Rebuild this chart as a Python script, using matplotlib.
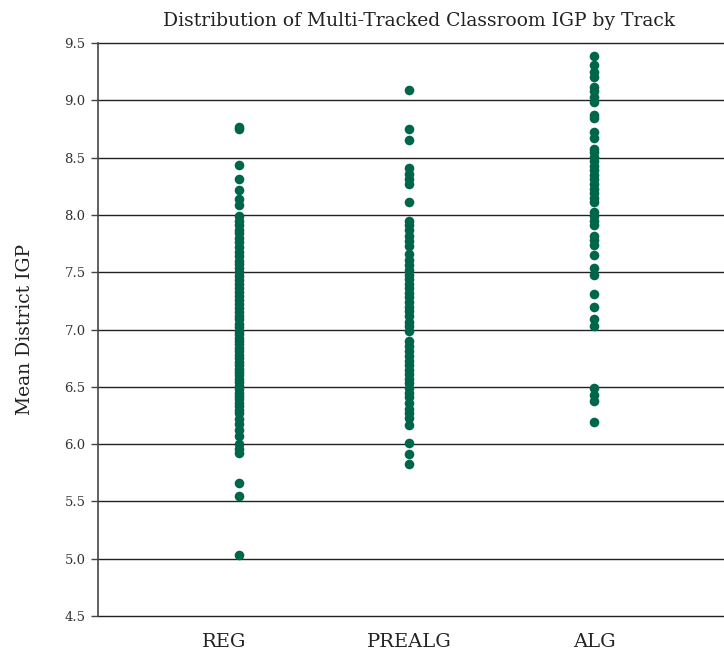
import numpy as np
import matplotlib
matplotlib.use('Agg')
import matplotlib.pyplot as plt

tracks = ['REG', 'PREALG', 'ALG']
# REG dots sit a little right of their label in the original
track_pos = [0.08, 1.0, 2.0]

reg_igp = [8.77, 8.75, 8.44, 8.31, 8.22, 8.14, 8.09,
           7.99, 7.95, 7.91, 7.87, 7.84, 7.80, 7.76, 7.72, 7.68, 7.64, 7.60, 7.57,
           7.54, 7.50, 7.47, 7.43, 7.40, 7.36, 7.33, 7.29, 7.26, 7.22, 7.19, 7.15,
           7.12, 7.09, 7.05, 7.02, 6.99, 6.96, 6.93, 6.90, 6.87, 6.84, 6.81, 6.78,
           6.75, 6.72, 6.69, 6.66, 6.63, 6.60, 6.57, 6.54, 6.51, 6.48, 6.45, 6.42,
           6.39, 6.36, 6.33, 6.30, 6.27, 6.22, 6.18, 6.12, 6.07, 6.00, 5.96, 5.92,
           5.66, 5.55, 5.03]
prealg_igp = [9.09, 8.75, 8.65, 8.41, 8.36, 8.31, 8.27, 8.11,
              7.95, 7.91, 7.87, 7.82, 7.77, 7.73, 7.66, 7.61, 7.56, 7.52,
              7.48, 7.44, 7.40, 7.36, 7.32, 7.28, 7.24, 7.20, 7.16, 7.12, 7.07,
              7.03, 6.99, 6.90, 6.86, 6.81, 6.77, 6.73, 6.69, 6.65, 6.61, 6.57,
              6.53, 6.49, 6.45, 6.41, 6.36, 6.31, 6.27, 6.23, 6.17,
              6.01, 5.91, 5.83]
alg_igp = [9.39, 9.31, 9.25, 9.20, 9.12, 9.08, 9.03, 8.99, 8.87, 8.85,
           8.72, 8.67, 8.58, 8.55, 8.51, 8.47, 8.43, 8.39, 8.35, 8.31,
           8.27, 8.23, 8.19, 8.15, 8.11, 8.03, 7.99, 7.95, 7.91,
           7.82, 7.78, 7.74, 7.65, 7.54, 7.48, 7.31, 7.20, 7.09, 7.03,
           6.49, 6.43, 6.38, 6.19]

ticks = [4.5, 5.0, 5.5, 6.0, 6.5, 7.0, 7.5, 8.0, 8.5, 9.0, 9.5]

plt.rcParams['font.family'] = ['DejaVu Serif']

fig = plt.figure(figsize=(7.24, 6.55), dpi=100)
ax = fig.add_axes([0.1354, 0.0595, 0.8646, 0.8747])

color = '#00664a'
for pos, vals in zip(track_pos, [reg_igp, prealg_igp, alg_igp]):
    ax.scatter(np.full(len(vals), pos), vals, s=48, color=color, zorder=3, linewidths=0)

ax.set_xlim(-0.68, 2.70)
ax.set_ylim(4.5, 9.5)
ax.set_yticks(ticks)
ax.set_yticklabels(['%.1f' % t for t in ticks], fontsize=9.5, color='#333333')
ax.set_xticks(range(3))
ax.set_xticklabels(tracks, fontsize=14, color='#222222')
ax.tick_params(axis='x', length=0, pad=12)
ax.tick_params(axis='y', length=5, width=1, color='#444444', pad=4)

for t in ticks:
    ax.axhline(t, color='#222222', linewidth=1.0, zorder=1, clip_on=False)

for s in ['top', 'right', 'bottom']:
    ax.spines[s].set_visible(False)
ax.spines['left'].set_color('#444444')
ax.spines['left'].set_linewidth(1.2)

ax.set_ylabel('Mean District IGP', fontsize=13.5, color='#222222', labelpad=22)
ax.set_title('Distribution of Multi-Tracked Classroom IGP by Track', fontsize=13.5,
             color='#222222', pad=12, x=0.512)

fig.savefig('out.png', dpi=100)
